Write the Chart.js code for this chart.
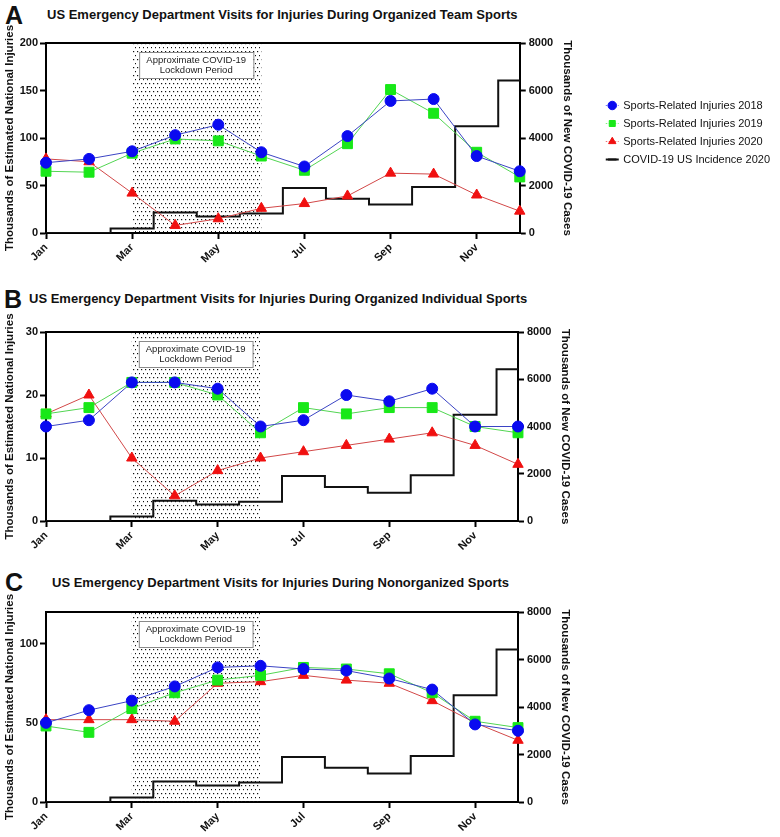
<!DOCTYPE html>
<html>
<head>
<style>
  body { margin: 0; background: #fff; font-family: "Liberation Sans", Arial, sans-serif; color: #111; }
  .letter { position: absolute; font-weight: bold; font-size: 25px; line-height: 26px; }
  .title { position: absolute; font-weight: bold; font-size: 13px; line-height: 16px; white-space: nowrap; }
  canvas { position: absolute; left: 0; }
</style>
</head>
<body>
  <div class="letter" style="left:5px;top:2px">A</div>
  <div class="title" style="left:47px;top:7px">US Emergency Department Visits for Injuries During Organized Team Sports</div>
  <canvas id="chartA" width="780" height="248" style="top:18px"></canvas>

  <div class="letter" style="left:4px;top:286px">B</div>
  <div class="title" style="left:29px;top:291px">US Emergency Department Visits for Injuries During Organized Individual Sports</div>
  <canvas id="chartB" width="780" height="250" style="top:304px"></canvas>

  <div class="letter" style="left:5px;top:569px">C</div>
  <div class="title" style="left:52px;top:575px">US Emergency Department Visits for Injuries During Nonorganized Sports</div>
  <canvas id="chartC" width="780" height="251" style="top:584px"></canvas>

  <script src="https://cdn.jsdelivr.net/npm/chart.js@4.4.1/dist/chart.umd.min.js"></script>
  <script>
    const months = ['Jan','Feb','Mar','Apr','May','Jun','Jul','Aug','Sep','Oct','Nov','Dec'];
    // thousands of new covid cases per month, 2020
    const covidCases = [0, 0, 190, 860, 700, 820, 1900, 1440, 1200, 1940, 4500, 6420];

    const teamInj2018 = [74, 78, 86, 103, 114, 85, 70, 102, 139, 141, 81, 65];
    const teamInj2019 = [65, 64, 84, 99, 97, 81, 66, 94, 151, 126, 85, 59];
    const teamInj2020 = [78, 75, 42, 8, 15, 26, 31, 39, 63, 62, 40, 23];

    const indivInj2018 = [15, 16, 22, 22, 21, 15, 16, 20, 19, 21, 15, 15];
    const indivInj2019 = [17, 18, 22, 22, 20, 14, 18, 17, 18, 18, 15, 14];
    const indivInj2020 = [17, 20, 10, 4, 8, 10, 11, 12, 13, 14, 12, 9];

    const nonorgInj2018 = [50, 58, 64, 73, 85, 86, 84, 83, 78, 71, 49, 45];
    const nonorgInj2019 = [48, 44, 59, 69, 77, 80, 85, 84, 81, 69, 51, 47];
    const nonorgInj2020 = [52, 52, 52, 51, 75, 76, 80, 77, 75, 64, 50, 39];

    const seriesNames = ['Sports-Related Injuries 2018', 'Sports-Related Injuries 2019', 'Sports-Related Injuries 2020', 'COVID-19 US Incidence 2020'];
    const lockdownStart = 'Mar';
    const lockdownEnd = 'Jun';
    const lockdownLabel = ['Approximate COVID-19', 'Lockdown Period'];

    const FONT = '"Liberation Sans", Arial, sans-serif';
    Chart.defaults.font.family = FONT;
    Chart.defaults.color = '#111';

    // dotted fill for the lockdown band
    const dotTile = document.createElement('canvas');
    dotTile.width = 4; dotTile.height = 8;
    (function() {
      const g = dotTile.getContext('2d');
      g.fillStyle = '#111';
      g.fillRect(1, 1, 1.2, 1.2);
      g.fillRect(3, 5, 1, 1.2);
    })();

    const lockdownPlugin = {
      id: 'lockdown',
      beforeDatasetsDraw(chart) {
        const {ctx, chartArea, scales} = chart;
        const x0 = scales.x.getPixelForValue(months.indexOf(lockdownStart));
        const x1 = scales.x.getPixelForValue(months.indexOf(lockdownEnd));
        ctx.save();
        ctx.fillStyle = ctx.createPattern(dotTile, 'repeat');
        ctx.fillRect(x0, chartArea.top, x1 - x0, chartArea.bottom - chartArea.top);
        const bx = x0 + 7, bw = x1 - x0 - 15, by = chartArea.top + 9, bh = 26;
        ctx.fillStyle = '#fff';
        ctx.fillRect(bx, by, bw, bh);
        ctx.strokeStyle = '#8a8a8a';
        ctx.lineWidth = 1;
        ctx.strokeRect(bx + 0.5, by + 0.5, bw, bh);
        ctx.fillStyle = '#222';
        ctx.font = '9.5px ' + FONT;
        ctx.textAlign = 'center';
        ctx.textBaseline = 'middle';
        ctx.fillText(lockdownLabel[0], bx + bw / 2, by + 8.5);
        ctx.fillText(lockdownLabel[1], bx + bw / 2, by + 18.5);
        ctx.restore();
      }
    };

    // top edge of the plot frame
    const framePlugin = {
      id: 'frame',
      afterDatasetsDraw(chart) {
        const {ctx, chartArea} = chart;
        ctx.save();
        ctx.strokeStyle = '#000';
        ctx.lineWidth = 2;
        ctx.beginPath();
        ctx.moveTo(chartArea.left, chartArea.top);
        ctx.lineTo(chartArea.right + 1, chartArea.top);
        ctx.stroke();
        ctx.restore();
      }
    };

    // short line behind each legend marker
    const legendLinePlugin = {
      id: 'legendLines',
      beforeDraw(chart) {
        const lg = chart.legend;
        if (!lg || !lg.legendHitBoxes) return;
        const ctx = chart.ctx;
        lg.legendHitBoxes.forEach((hb, i) => {
          const ds = chart.data.datasets[i];
          const y = hb.top + 5.5;
          ctx.save();
          ctx.strokeStyle = ds.legendLine;
          ctx.lineWidth = ds.yAxisID === 'y2' ? 2 : 1;
          if (ds.yAxisID !== 'y2') ctx.setLineDash([1.5, 1.5]);
          ctx.beginPath();
          ctx.moveTo(hb.left - 1, y);
          ctx.lineTo(hb.left + 12, y);
          ctx.stroke();
          ctx.restore();
        });
      }
    };

    function makePanel(id, d18, d19, d20, yMax, yStep, withLegend) {
      const tickFont = {size: 11, weight: 'bold'};
      return new Chart(id, {
        type: 'line',
        data: {
          labels: months,
          datasets: [
            {
              label: seriesNames[0], data: d18, yAxisID: 'y',
              borderColor: '#3b44c4', borderWidth: 1, legendLine: '#6f78ff',
              pointStyle: 'circle', pointRadius: 5.5,
              pointBackgroundColor: '#0a0af0', pointBorderColor: '#0a0af0'
            },
            {
              label: seriesNames[1], data: d19, yAxisID: 'y',
              borderColor: '#52d552', borderWidth: 1, legendLine: '#7ef07e',
              pointStyle: 'rect', pointRadius: 7,
              pointBackgroundColor: '#18e818', pointBorderColor: '#18e818'
            },
            {
              label: seriesNames[2], data: d20, yAxisID: 'y',
              borderColor: '#d24848', borderWidth: 1, legendLine: '#f07070',
              pointStyle: 'triangle', pointRadius: 6,
              pointBackgroundColor: '#f01010', pointBorderColor: '#f01010'
            },
            {
              label: seriesNames[3], data: covidCases, yAxisID: 'y2',
              stepped: 'middle', borderColor: '#111', borderWidth: 2, legendLine: '#111',
              pointStyle: 'line', pointRadius: 0, pointHoverRadius: 0,
              pointBorderColor: '#111', pointBorderWidth: 2, backgroundColor: '#111'
            }
          ]
        },
        options: {
          responsive: false,
          animation: false,
          layout: {padding: withLegend ? {top: 25, right: 0, left: 0, bottom: 0} : {top: 28, right: 182, left: 0, bottom: 0}},
          plugins: {
            legend: {
              display: withLegend,
              position: 'right',
              align: 'start',
              maxWidth: 220,
              title: {display: true, text: ' ', font: {size: 5}, padding: {top: 44, bottom: 0}},
              labels: {
                usePointStyle: true, boxWidth: 11, boxHeight: 6, padding: 7,
                font: {size: 11}, color: '#111'
              }
            },
            tooltip: {enabled: false}
          },
          scales: {
            x: {
              type: 'category',
              offset: false,
              afterFit: (s) => { s.height = 33; },
              grid: {drawOnChartArea: false, drawTicks: true, tickLength: 6, tickWidth: 2, color: '#000'},
              border: {display: true, color: '#000', width: 2},
              ticks: {
                autoSkip: false, maxRotation: 45, minRotation: 45, padding: 2, font: tickFont, color: '#111',
                callback: function(v, i) { return i % 2 === 0 ? months[i] : null; }
              }
            },
            y: {
              position: 'left',
              min: 0, max: yMax,
              afterFit: (s) => { s.width = 46; },
              grid: {drawOnChartArea: false, drawTicks: true, tickLength: 6, tickWidth: 2, color: '#000'},
              border: {display: true, color: '#000', width: 2},
              ticks: {
                stepSize: yStep, padding: 2, font: tickFont, color: '#111',
                callback: (v) => (v % yStep === 0 ? String(v) : null)
              },
              title: {
                display: true, text: 'Thousands of Estimated National Injuries',
                font: {size: 11.5, weight: 'bold'}, color: '#111', padding: {top: 3, bottom: 0}
              }
            },
            y2: {
              position: 'right',
              min: 0, max: 8000,
              afterFit: (s) => { s.width = 80; },
              grid: {drawOnChartArea: false, drawTicks: true, tickLength: 6, tickWidth: 2, color: '#000'},
              border: {display: true, color: '#000', width: 2},
              ticks: {stepSize: 2000, padding: 3, font: tickFont, color: '#111', callback: (v) => String(v)},
              title: {
                display: true, text: 'Thousands of New COVID-19 Cases',
                font: {size: 11.5, weight: 'bold'}, color: '#111', padding: {top: 26, bottom: 0}
              }
            }
          }
        },
        plugins: withLegend ? [lockdownPlugin, framePlugin, legendLinePlugin] : [lockdownPlugin, framePlugin]
      });
    }

    makePanel('chartA', teamInj2018, teamInj2019, teamInj2020, 200, 50, true);
    makePanel('chartB', indivInj2018, indivInj2019, indivInj2020, 30, 10, false);
    makePanel('chartC', nonorgInj2018, nonorgInj2019, nonorgInj2020, 120, 50, false);
  </script>
</body>
</html>
